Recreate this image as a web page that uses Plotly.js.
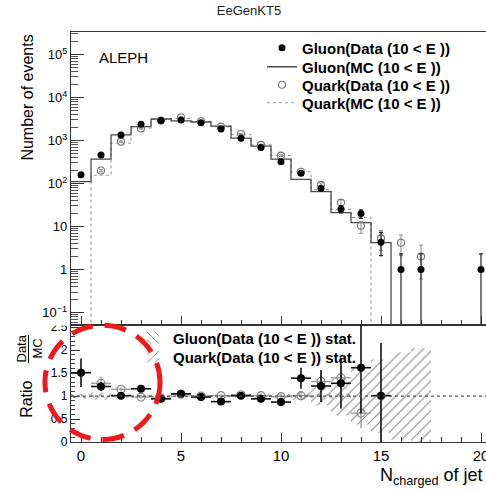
<!DOCTYPE html>
<html><head><meta charset="utf-8">
<script src="https://cdn.plot.ly/plotly-3.0.1.min.js"></script>
<style>html,body{margin:0;padding:0;overflow:hidden;background:#fff}</style>
</head><body><div id="chart"></div>
<script>
// ---- data ----
const bins = [0,1,2,3,4,5,6,7,8,9,10,11,12,13,14,15,16,17,18,19,20];

const gluonData        = [160, 460, 1340, 2400, 2900, 3000, 2590, 1850, 1130, 690, 320, 173, 78, 25.6, 20, 4.3, 1, 1, null, null, 1];
const gluonDataErrUp   = [13, 21, 37, 49, 54, 55, 51, 43, 34, 26, 18, 13, 9, 5, 4.5, 3.0, 1.3, 1.3, null, null, 1.3];
const gluonDataErrDown = [13, 21, 37, 49, 54, 55, 51, 43, 34, 26, 18, 13, 9, 5, 4.5, 2.2, 1, 1, null, null, 1];

const quarkData        = [null, 200, 940, 1900, 2900, 3460, 2800, 2100, 1420, 790, 445, 188, 93, 36, 10.4, 5.3, 4.2, 2, null, null, null];
const quarkDataErrUp   = [null, 14, 31, 44, 54, 59, 53, 46, 38, 28, 21, 14, 10, 6, 2.5, 2.8, 2.1, 1.7, null, null, null];
const quarkDataErrDown = [null, 14, 31, 44, 54, 59, 53, 46, 38, 28, 21, 14, 10, 6, 3.5, 2.5, 2.1, 1.4, null, null, null];

const gluonMC = [110, 370, 1350, 2100, 3160, 2870, 2690, 2170, 1130, 740, 370, 125, 65, 21, 12.3, 4.2, 0, 0, 0, 0, 0];
const quarkMC = [0, 155, 860, 1950, 3100, 3250, 2800, 2100, 1400, 790, 445, 188, 72, 25, 16.3, 0, 0, 0, 0, 0, 0];

const gluonRatio    = [1.51, 1.21, 1.01, 1.16, 0.94, 1.05, 0.98, 0.88, 1.01, 0.94, 0.87, 1.39, 1.22, 1.28, 1.62, 1.01, null, null, null, null, null];
const gluonRatioErr = [0.31, 0.10, 0.04, 0.04, 0.03, 0.03, 0.03, 0.03, 0.04, 0.05, 0.07, 0.23, 0.35, 0.55, 1.0, 1.15, null, null, null, null, null];
const quarkRatio    = [null, 1.28, 1.15, 0.98, 0.96, 1.04, 1.00, 1.01, 1.03, 1.01, 0.99, 1.01, 1.32, 1.40, 0.63, null, null, null, null, null, null];
const quarkRatioErr = [null, 0.15, 0.04, 0.03, 0.03, 0.03, 0.03, 0.03, 0.04, 0.05, 0.06, 0.10, 0.15, 0.25, 0.33, null, null, null, null, null, null];

// MC statistical bands (half widths around 1)
const gluonBandErr = [0.05, 0.03, 0.02, 0.02, 0.02, 0.02, 0.02, 0.02, 0.02, 0.02, 0.03, 0.03, 0.04, 0.05, null, null, null, null, null, null, null];
const quarkBandErr = [null, 0.08, 0.035, 0.025, 0.02, 0.02, 0.02, 0.025, 0.03, 0.04, 0.05, 0.08, 0.2, 0.42, 0.62, 0.8, 0.95, 1.05, null, null, null];

const yTickVals = [0.1, 1, 10, 100, 1000, 10000, 100000];
const yTickText = ['10<sup>\u22121</sup>', '1', '10', '10<sup>2</sup>', '10<sup>3</sup>', '10<sup>4</sup>', '10<sup>5</sup>'];
const xTickVals = [0, 5, 10, 15, 20];
const rTickVals = [0, 0.5, 1, 1.5, 2, 2.5];
const rTickText = ['0', '0.5', '1', '1.5', '2', '2.5'];

const labelGluonData = 'Gluon(Data (10 &lt; E ))';
const labelGluonMC   = 'Gluon(MC (10 &lt; E ))';
const labelQuarkData = 'Quark(Data (10 &lt; E ))';
const labelQuarkMC   = 'Quark(MC (10 &lt; E ))';
const labelGluonStat = 'Gluon(Data (10 &lt; E )) stat.';
const labelQuarkStat = 'Quark(Data (10 &lt; E )) stat.';

// ---- helpers ----
const FLOOR = 1e-3; // empty bins drawn below the visible range on the log axis
function stepX(b) { return b.map(v => v - 0.5).concat([b[b.length - 1] + 0.5]); }
function stepY(v) { const y = v.map(a => (a > 0 ? a : FLOOR)); return y.concat([y[y.length - 1]]); }

const FONT = 'Liberation Sans, Arial, Helvetica, sans-serif';

const traces = [
  // ratio bands
  {
    type: 'bar', x: bins, xaxis: 'x2', yaxis: 'y2', width: 1,
    base: quarkBandErr.map(e => (e == null ? null : 1 - e)),
    y: quarkBandErr.map(e => (e == null ? null : 2 * e)),
    marker: { color: 'rgba(0,0,0,0)', line: { width: 0 },
      pattern: { shape: '/', fgcolor: '#8a8a8a', bgcolor: 'rgba(0,0,0,0)', size: 7, solidity: 0.16 } },
    name: labelQuarkStat, legend: 'legend6', hoverinfo: 'skip'
  },
  {
    type: 'bar', x: bins, xaxis: 'x2', yaxis: 'y2', width: 1,
    base: gluonBandErr.map(e => (e == null ? null : 1 - e)),
    y: gluonBandErr.map(e => (e == null ? null : 2 * e)),
    marker: { color: 'rgba(0,0,0,0)', line: { width: 0 },
      pattern: { shape: '\\', fgcolor: '#6a6a6a', bgcolor: 'rgba(0,0,0,0)', size: 7, solidity: 0.16 } },
    name: labelGluonStat, legend: 'legend2', hoverinfo: 'skip'
  },
  // MC histograms
  {
    type: 'scatter', mode: 'lines', x: stepX(bins), y: stepY(quarkMC), xaxis: 'x', yaxis: 'y',
    line: { shape: 'hv', color: '#9a9a9a', width: 1.1, dash: '3px,3px' },
    name: labelQuarkMC, legend: 'legend5'
  },
  {
    type: 'scatter', mode: 'lines', x: stepX(bins), y: stepY(gluonMC), xaxis: 'x', yaxis: 'y',
    line: { shape: 'hv', color: '#4a4a4a', width: 1.3 },
    name: labelGluonMC, legend: 'legend3'
  },
  // data points
  {
    type: 'scatter', mode: 'markers', x: bins, y: quarkData, xaxis: 'x', yaxis: 'y',
    marker: { symbol: 'circle-open', size: 7, color: '#777', line: { width: 1.1, color: '#777' } },
    error_y: { type: 'data', symmetric: false, array: quarkDataErrUp, arrayminus: quarkDataErrDown, color: '#888', thickness: 1, width: 2 },
    name: labelQuarkData, legend: 'legend4'
  },
  {
    type: 'scatter', mode: 'markers', x: bins, y: gluonData, xaxis: 'x', yaxis: 'y',
    marker: { symbol: 'circle', size: 7, color: '#000' },
    error_y: { type: 'data', symmetric: false, array: gluonDataErrUp, arrayminus: gluonDataErrDown, color: '#222', thickness: 1.2, width: 2 },
    name: labelGluonData, legend: 'legend'
  },
  // ratio points
  {
    type: 'scatter', mode: 'markers', x: bins, y: quarkRatio, xaxis: 'x2', yaxis: 'y2',
    marker: { symbol: 'circle-open', size: 8, color: '#888', line: { width: 1.2, color: '#888' } },
    error_y: { type: 'data', array: quarkRatioErr, color: '#999', thickness: 1.3, width: 0 },
    error_x: { type: 'constant', value: 0.5, color: '#999', thickness: 1.3, width: 0 },
    showlegend: false
  },
  {
    type: 'scatter', mode: 'markers', x: bins, y: gluonRatio, xaxis: 'x2', yaxis: 'y2',
    marker: { symbol: 'circle', size: 8, color: '#000' },
    error_y: { type: 'data', array: gluonRatioErr, color: '#111', thickness: 1.6, width: 0 },
    error_x: { type: 'constant', value: 0.5, color: '#111', thickness: 1.6, width: 0 },
    showlegend: false
  }
];

const axisCommon = {
  showline: true, mirror: true, linecolor: '#333', linewidth: 1.2,
  showgrid: false, zeroline: false, ticks: 'inside', tickcolor: '#333',
  tickfont: { family: FONT, size: 13, color: '#000' }
};

function oneLegend(xPx, yPx) {
  return {
    x: (xPx - 71) / 420, y: (442 - yPx) / 410, xanchor: 'left', yanchor: 'middle',
    bgcolor: 'rgba(0,0,0,0)', borderwidth: 0, tracegroupgap: 0,
    font: { family: FONT, size: 15, color: '#000', weight: 'bold' }
  };
}

const layout = {
  width: 500, height: 491,
  margin: { l: 71, r: 9, t: 32, b: 49 },
  paper_bgcolor: '#fff', plot_bgcolor: '#fff',
  font: { family: FONT, color: '#000' },
  barmode: 'overlay',
  showlegend: true,
  title: { text: 'EeGenKT5', font: { family: FONT, size: 13, color: '#222' },
    xref: 'container', yref: 'container', x: 0.498, y: 0.978, xanchor: 'center', yanchor: 'middle' },
  xaxis: Object.assign({}, axisCommon, {
    domain: [0, 1], anchor: 'y', range: [-0.5, 20.5], tickmode: 'array', tickvals: xTickVals,
    showticklabels: false, ticklen: 9,
    minor: { ticks: 'inside', dtick: 1, tick0: 0, ticklen: 5, tickcolor: '#333' }
  }),
  yaxis: Object.assign({}, axisCommon, {
    domain: [0.2854, 1], anchor: 'x', type: 'log', range: [-1.29, 5.523],
    tickmode: 'array', tickvals: yTickVals, ticktext: yTickText, ticklen: 13,
    tickfont: { family: FONT, size: 13, color: '#000' },
    minor: { ticks: 'inside', dtick: 'D1', ticklen: 7, tickcolor: '#555' }
  }),
  xaxis2: Object.assign({}, axisCommon, {
    domain: [0, 1], anchor: 'y2', range: [-0.5, 20.5], tickmode: 'array', tickvals: xTickVals,
    ticklen: 9, tickfont: { family: FONT, size: 15, color: '#000' },
    minor: { ticks: 'inside', dtick: 1, tick0: 0, ticklen: 5, tickcolor: '#333' }
  }),
  yaxis2: Object.assign({}, axisCommon, {
    domain: [0, 0.2854], anchor: 'x2', range: [0, 2.55],
    tickmode: 'array', tickvals: rTickVals, ticktext: rTickText, ticklen: 9,
    tickfont: { family: FONT, size: 12, color: '#000' },
    minor: { ticks: 'inside', dtick: 0.1, tick0: 0, ticklen: 4, tickcolor: '#444' }
  }),
  legend:  oneLegend(262, 48),
  legend3: oneLegend(262, 67),
  legend4: oneLegend(262, 85),
  legend5: oneLegend(262, 103),
  legend2: oneLegend(133, 338),
  legend6: oneLegend(133, 357),
  shapes: [
    { type: 'line', xref: 'x2 domain', x0: 0, x1: 1, yref: 'y2', y0: 1, y1: 1,
      line: { color: '#555', width: 1.2, dash: '3px,3px' } },
    { type: 'line', xref: 'paper', yref: 'paper', x0: -0.1012, x1: -0.1012, y0: 0.193, y1: 0.261,
      line: { color: '#000', width: 1 } },
    { type: 'rect', xref: 'paper', yref: 'paper', x0: -0.0976, x1: -0.004, y0: 0.2835, y1: 0.2976,
      fillcolor: '#fff', line: { width: 0 }, layer: 'above' },
    { type: 'circle', xref: 'paper', yref: 'paper', x0: -0.062, x1: 0.212, y0: 0.006, y1: 0.285,
      line: { color: '#ee1a1a', width: 5, dash: '22px,12px' } }
  ],
  annotations: [
    { text: 'ALEPH', xref: 'paper', yref: 'paper', x: 0.062, y: 0.939, xanchor: 'left', yanchor: 'middle',
      showarrow: false, font: { family: FONT, size: 15, color: '#000' } },
    { text: 'Number of events', xref: 'paper', yref: 'paper', x: -0.1024, y: 0.84, xanchor: 'center', yanchor: 'middle',
      textangle: -90, showarrow: false, font: { family: FONT, size: 16, color: '#000' } },
    { text: 'Ratio', xref: 'paper', yref: 'paper', x: -0.105, y: 0.105, xanchor: 'center', yanchor: 'middle',
      textangle: -90, showarrow: false, font: { family: FONT, size: 16, color: '#000' } },
    { text: 'Data', xref: 'paper', yref: 'paper', x: -0.1167, y: 0.228, xanchor: 'center', yanchor: 'middle',
      textangle: -90, showarrow: false, font: { family: FONT, size: 13, color: '#000' } },
    { text: 'MC', xref: 'paper', yref: 'paper', x: -0.0809, y: 0.228, xanchor: 'center', yanchor: 'middle',
      textangle: -90, showarrow: false, font: { family: FONT, size: 13, color: '#000' } },
    { text: 'N<sub>charged</sub> of jet', xref: 'paper', yref: 'paper', x: 0.9857, y: -0.05, xanchor: 'right', yanchor: 'top',
      showarrow: false, font: { family: FONT, size: 18, color: '#000' } }
  ]
};

Plotly.newPlot('chart', traces, layout, { staticPlot: true, displayModeBar: false });
</script></body></html>
